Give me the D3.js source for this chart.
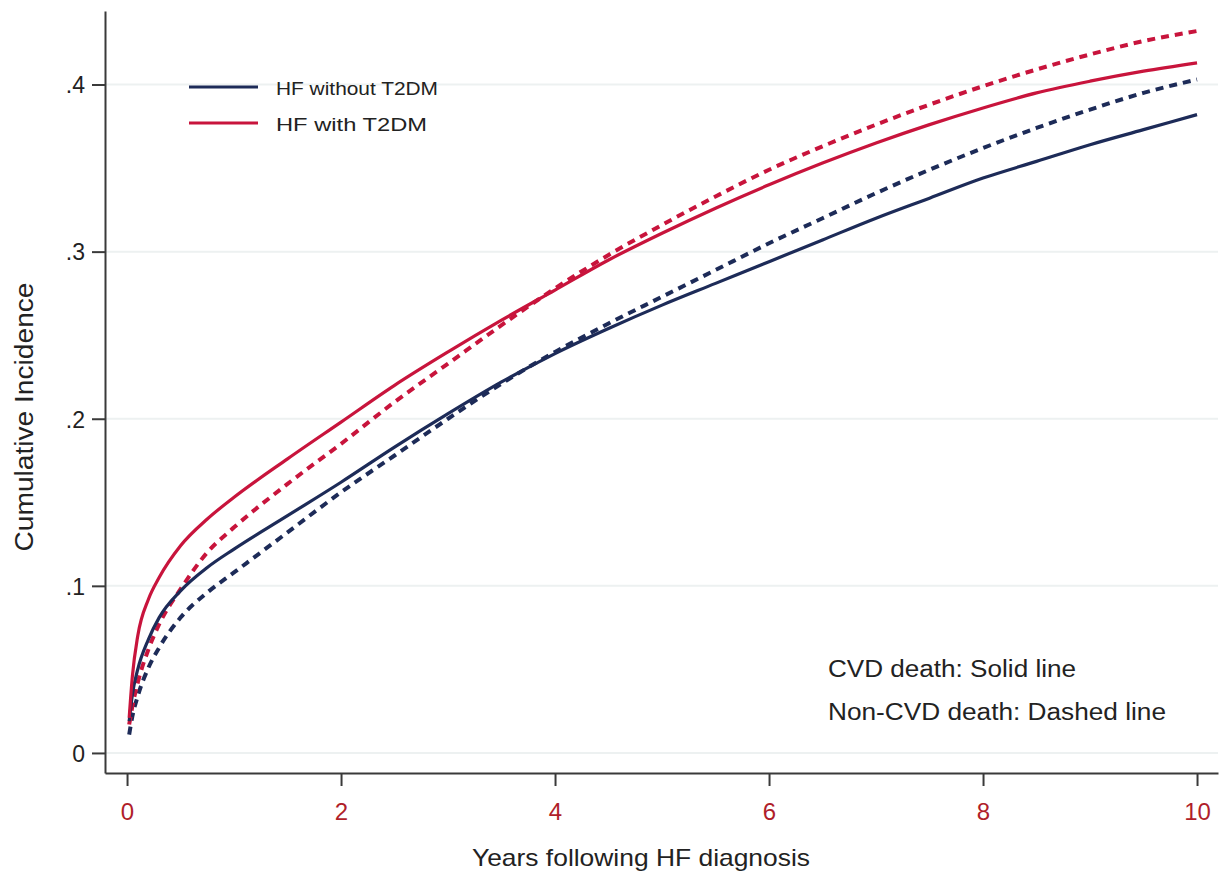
<!DOCTYPE html>
<html lang="en">
<head>
<meta charset="UTF-8">
<title>Cumulative incidence</title>
<style>
  body { margin: 0; background: #fff; }
  text { font-family: "Liberation Sans", Arial, sans-serif; }
</style>
</head>
<body>
<svg width="1225" height="878"></svg>
<script src="https://d3js.org/d3.v7.min.js"></script>
<script>
// years since HF diagnosis
const years = [0.02, 0.05, 0.1, 0.2, 0.3, 0.5, 0.75, 1, 1.5, 2, 2.5, 3, 3.5, 4, 4.5, 5, 5.5, 6, 6.5, 7, 7.5, 8, 8.5, 9, 9.5, 10];

// cumulative incidence
const withT2dmCvd    = [0.021, 0.046, 0.070, 0.092, 0.105, 0.124, 0.140, 0.153, 0.176, 0.198, 0.220, 0.240, 0.259, 0.277, 0.295, 0.311, 0.326, 0.340, 0.353, 0.365, 0.376, 0.386, 0.395, 0.402, 0.408, 0.413];
const withT2dmNonCvd = [0.017, 0.028, 0.042, 0.062, 0.077, 0.098, 0.120, 0.135, 0.161, 0.185, 0.210, 0.233, 0.256, 0.278, 0.298, 0.316, 0.333, 0.349, 0.363, 0.376, 0.388, 0.399, 0.409, 0.418, 0.426, 0.432];
const noT2dmCvd      = [0.019, 0.035, 0.050, 0.068, 0.081, 0.097, 0.111, 0.122, 0.142, 0.162, 0.183, 0.203, 0.222, 0.239, 0.254, 0.268, 0.281, 0.294, 0.307, 0.320, 0.332, 0.344, 0.354, 0.364, 0.373, 0.382];
const noT2dmNonCvd   = [0.011, 0.022, 0.034, 0.051, 0.063, 0.081, 0.096, 0.108, 0.132, 0.156, 0.178, 0.200, 0.221, 0.240, 0.257, 0.273, 0.289, 0.305, 0.320, 0.335, 0.349, 0.362, 0.374, 0.385, 0.395, 0.403];

const xTicks = [0, 2, 4, 6, 8, 10];
const yTicks = [0, 0.1, 0.2, 0.3, 0.4];
const legendLabels = ["HF without T2DM", "HF with T2DM"];
const notes = ["CVD death: Solid line", "Non-CVD death: Dashed line"];

const NAVY = "#1d2b58", RED = "#c8143c";

const series = [
  { values: noT2dmNonCvd,   color: NAVY, dashed: true },
  { values: withT2dmNonCvd, color: RED,  dashed: true },
  { values: noT2dmCvd,      color: NAVY, dashed: false },
  { values: withT2dmCvd,    color: RED,  dashed: false }
];

const svg = d3.select("svg");

const x = d3.scaleLinear().domain([-0.206, 10.196]).range([105, 1218]);
const y = d3.scaleLinear().domain([-0.012, 0.444]).range([773, 11]);

// faint grid lines
svg.append("g")
  .selectAll("line")
  .data(yTicks)
  .join("line")
    .attr("x1", x.range()[0])
    .attr("x2", x.range()[1])
    .attr("y1", d => y(d))
    .attr("y2", d => y(d))
    .attr("stroke", "#edf1f1")
    .attr("stroke-width", 2);

// curves
const line = d3.line()
  .x((d, i) => x(years[i]))
  .y(d => y(d))
  .curve(d3.curveMonotoneX);

svg.append("g")
  .selectAll("path")
  .data(series)
  .join("path")
    .attr("d", d => line(d.values))
    .attr("fill", "none")
    .attr("stroke", d => d.color)
    .attr("stroke-width", d => d.dashed ? 4 : 3.2)
    .attr("stroke-dasharray", d => d.dashed ? "8,6" : null);

// axes
const xAxis = svg.append("g")
  .attr("transform", `translate(0,${y.range()[0]})`)
  .call(d3.axisBottom(x).tickValues(xTicks).tickSize(13).tickSizeOuter(0).tickFormat(d3.format("d")));

const yAxis = svg.append("g")
  .attr("transform", `translate(${x.range()[0]},0)`)
  .call(d3.axisLeft(y).tickValues(yTicks).tickSize(13).tickSizeOuter(0)
    .tickFormat(d => d === 0 ? "0" : d3.format(".1f")(d).replace(/^0/, "")));

[xAxis, yAxis].forEach(g => {
  g.select(".domain").attr("stroke", "#3a3a3a").attr("stroke-width", 2);
  g.selectAll(".tick line").attr("stroke", "#3a3a3a").attr("stroke-width", 2);
});

xAxis.selectAll(".tick text")
  .attr("y", 30).attr("dy", "0.71em")
  .attr("fill", "#b01e2a")
  .style("font-size", "24px");

yAxis.selectAll(".tick text")
  .attr("x", -20).attr("dy", "0.36em")
  .attr("fill", "#222")
  .style("font-size", "23px");

// axis titles
svg.append("text")
  .attr("x", 641).attr("y", 866)
  .attr("text-anchor", "middle")
  .attr("textLength", 338).attr("lengthAdjust", "spacingAndGlyphs")
  .attr("fill", "#222")
  .style("font-size", "24px")
  .text("Years following HF diagnosis");

svg.append("text")
  .attr("transform", "translate(33,417) rotate(-90)")
  .attr("text-anchor", "middle")
  .attr("textLength", 269).attr("lengthAdjust", "spacingAndGlyphs")
  .attr("fill", "#222")
  .style("font-size", "26px")
  .text("Cumulative Incidence");

// legend
const legend = svg.append("g")
  .selectAll("g")
  .data(legendLabels)
  .join("g")
    .attr("transform", (d, i) => `translate(189,${87 + i * 36})`);

legend.append("line")
  .attr("x1", 0).attr("x2", 69)
  .attr("stroke", (d, i) => i === 0 ? NAVY : RED)
  .attr("stroke-width", 3);

legend.append("text")
  .attr("x", 87).attr("y", 8)
  .attr("textLength", (d, i) => i === 0 ? 162 : 151)
  .attr("lengthAdjust", "spacingAndGlyphs")
  .attr("fill", "#222")
  .style("font-size", "19px")
  .text(d => d);

// line style notes
svg.append("g")
  .selectAll("text")
  .data(notes)
  .join("text")
    .attr("x", 828)
    .attr("y", (d, i) => 677 + i * 43)
    .attr("textLength", (d, i) => i === 0 ? 248 : 338)
    .attr("lengthAdjust", "spacingAndGlyphs")
    .attr("fill", "#222")
    .style("font-size", "23px")
    .text(d => d);
</script>
</body>
</html>
